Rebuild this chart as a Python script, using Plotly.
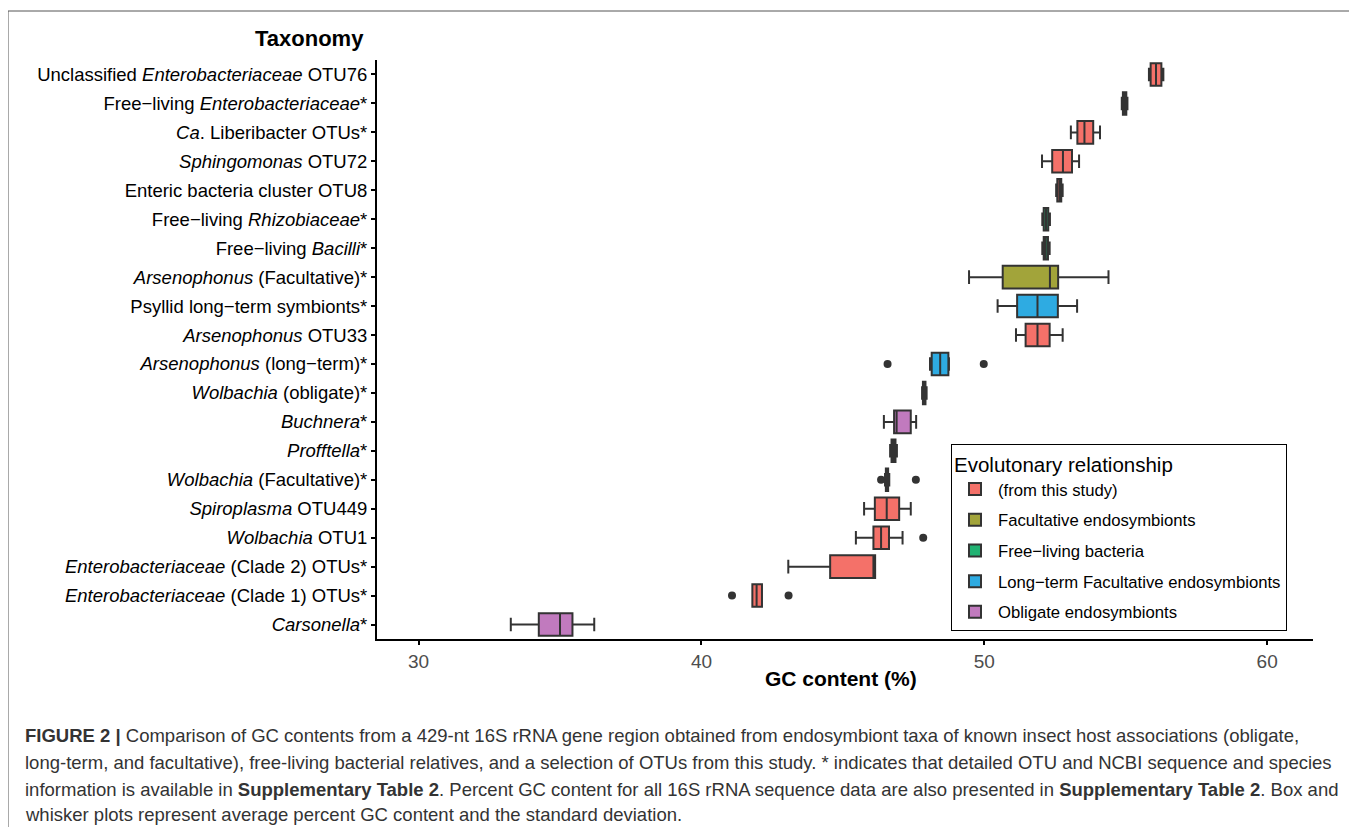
import plotly.graph_objects as go

# ---------------- data ----------------
categories = [
    "Unclassified Enterobacteriaceae OTU76",
    "Free-living Enterobacteriaceae*",
    "Ca. Liberibacter OTUs*",
    "Sphingomonas OTU72",
    "Enteric bacteria cluster OTU8",
    "Free-living Rhizobiaceae*",
    "Free-living Bacilli*",
    "Arsenophonus (Facultative)*",
    "Psyllid long-term symbionts*",
    "Arsenophonus OTU33",
    "Arsenophonus (long-term)*",
    "Wolbachia (obligate)*",
    "Buchnera*",
    "Profftella*",
    "Wolbachia (Facultative)*",
    "Spiroplasma OTU449",
    "Wolbachia OTU1",
    "Enterobacteriaceae (Clade 2) OTUs*",
    "Enterobacteriaceae (Clade 1) OTUs*",
    "Carsonella*",
]
tick_labels = [
    "Unclassified <i>Enterobacteriaceae</i> OTU76",
    "Free\u2212living <i>Enterobacteriaceae</i>*",
    "<i>Ca</i>. Liberibacter OTUs*",
    "<i>Sphingomonas</i> OTU72",
    "Enteric bacteria cluster OTU8",
    "Free\u2212living <i>Rhizobiaceae</i>*",
    "Free\u2212living <i>Bacilli</i>*",
    "<i>Arsenophonus</i> (Facultative)*",
    "Psyllid long\u2212term symbionts*",
    "<i>Arsenophonus</i> OTU33",
    "<i>Arsenophonus</i> (long\u2212term)*",
    "<i>Wolbachia</i> (obligate)*",
    "<i>Buchnera</i>*",
    "<i>Profftella</i>*",
    "<i>Wolbachia</i> (Facultative)*",
    "<i>Spiroplasma</i> OTU449",
    "<i>Wolbachia</i> OTU1",
    "<i>Enterobacteriaceae</i> (Clade 2) OTUs*",
    "<i>Enterobacteriaceae</i> (Clade 1) OTUs*",
    "<i>Carsonella</i>*",
]
group = [
    "(from this study)", "Free\u2212living bacteria", "(from this study)", "(from this study)",
    "(from this study)", "Free\u2212living bacteria", "Free\u2212living bacteria",
    "Facultative endosymbionts", "Long\u2212term Facultative endosymbionts", "(from this study)",
    "Long\u2212term Facultative endosymbionts", "Obligate endosymbionts", "Obligate endosymbionts",
    "Obligate endosymbionts", "Facultative endosymbionts", "(from this study)", "(from this study)",
    "(from this study)", "(from this study)", "Obligate endosymbionts",
]
lower = [55.82, 54.86, 53.06, 52.04, 52.54, 52.05, 52.05, 49.46, 50.47, 51.12,
         48.08, 47.80, 46.45, 46.67, 46.49, 45.75, 45.46, 43.07, 41.80, 33.26]
q1 = [55.88, 54.90, 53.29, 52.40, 52.58, 52.10, 52.10, 50.65, 51.16, 51.46,
      48.14, 47.83, 46.81, 46.72, 46.52, 46.13, 46.08, 44.55, 41.80, 34.25]
median = [56.07, 54.96, 53.54, 52.78, 52.66, 52.18, 52.17, 52.32, 51.88, 51.88,
          48.44, 47.87, 46.90, 46.79, 46.56, 46.55, 46.35, 46.08, 41.95, 35.00]
q3 = [56.26, 55.02, 53.85, 53.10, 52.72, 52.26, 52.25, 52.61, 52.60, 52.31,
      48.73, 47.92, 47.40, 46.86, 46.60, 46.99, 46.63, 46.14, 42.14, 35.44]
upper = [56.33, 55.06, 54.09, 53.35, 52.77, 52.32, 52.31, 54.39, 53.28, 52.77,
         48.75, 47.96, 47.59, 46.91, 46.64, 47.40, 47.11, 46.14, 42.14, 36.21]

outlier_cat = [
    "Arsenophonus (long-term)*", "Arsenophonus (long-term)*",
    "Wolbachia (Facultative)*", "Wolbachia (Facultative)*",
    "Wolbachia OTU1",
    "Enterobacteriaceae (Clade 1) OTUs*", "Enterobacteriaceae (Clade 1) OTUs*",
]
outlier_val = [46.58, 49.98, 46.35, 47.58, 47.84, 41.08, 43.08]

legend_order = ["(from this study)", "Facultative endosymbionts", "Free\u2212living bacteria",
                "Long\u2212term Facultative endosymbionts", "Obligate endosymbionts"]
colors = ["#F47169", "#A2A43A", "#21B272", "#2EABE2", "#C17ABE"]

x_ticks = [30, 40, 50, 60]

caption_lines = [
    "<b>FIGURE 2 |</b> Comparison of GC contents from a 429-nt 16S rRNA gene region obtained from endosymbiont taxa of known insect host associations (obligate,",
    "long-term, and facultative), free-living bacterial relatives, and a selection of OTUs from this study. * indicates that detailed OTU and NCBI sequence and species",
    "information is available in <b>Supplementary Table 2</b>. Percent GC content for all 16S rRNA sequence data are also presented in <b>Supplementary Table 2</b>. Box and",
    "whisker plots represent average percent GC content and the standard deviation.",
]

# ---------------- layout geometry (screen pixels) ----------------
OFF = 8                      # page body margin
W, H = 1357 - OFF, 827 - OFF
L, R, T, B = 377, 1313, 60, 639   # plot area on screen
PW, PH = R - L, B - T


def px(x):
    return (x - L) / PW


def py(y):
    return (B - y) / PH


FONT = "Liberation Sans, Arial, sans-serif"

fig = go.Figure()

for g, c in zip(legend_order, colors):
    idx = [i for i, gg in enumerate(group) if gg == g]
    fig.add_trace(go.Box(
        name=g,
        legendgroup=g,
        orientation="h",
        y=[categories[i] for i in idx],
        lowerfence=[lower[i] for i in idx],
        q1=[q1[i] for i in idx],
        median=[median[i] for i in idx],
        q3=[q3[i] for i in idx],
        upperfence=[upper[i] for i in idx],
        fillcolor=c,
        line=dict(color="#333333", width=2),
        width=0.78,
        whiskerwidth=0.6,
        boxpoints=False,
        hoverinfo="skip",
    ))

fig.add_trace(go.Scatter(
    x=outlier_val, y=outlier_cat, mode="markers",
    marker=dict(color="#333333", size=8),
    showlegend=False, hoverinfo="skip",
))

annotations = [
    dict(text="<b>Taxonomy</b>", x=px(366), y=py(38), xref="paper", yref="paper",
         xanchor="right", yanchor="middle", showarrow=False,
         font=dict(family=FONT, size=22, color="black")),
    dict(text="<b>GC content (%)</b>", x=px(841), y=py(678), xref="paper", yref="paper",
         xanchor="center", yanchor="middle", showarrow=False,
         font=dict(family=FONT, size=21, color="black")),
]
for line, yy in zip(caption_lines, [735, 762, 789, 815]):
    annotations.append(dict(
        text=line, x=px(23), y=py(yy), xref="paper", yref="paper",
        xanchor="left", yanchor="middle", showarrow=False, align="left",
        font=dict(family=FONT, size=18.5, color="#333333")))

fig.update_layout(
    width=W, height=H,
    margin=dict(l=L - OFF, r=W - (R - OFF), t=T - OFF, b=H - (B - OFF), pad=0),
    paper_bgcolor="white", plot_bgcolor="white",
    boxmode="overlay",
    font=dict(family=FONT, color="black"),
    showlegend=True,
    legend=dict(
        title=dict(text="Evolutonary relationship", font=dict(family=FONT, size=20.5, color="black")),
        x=px(951), y=py(444), xanchor="left", yanchor="top",
        bordercolor="black", borderwidth=1, bgcolor="white",
        font=dict(family=FONT, size=16.7, color="black"),
        traceorder="grouped", tracegroupgap=6, itemwidth=36,
    ),
    xaxis=dict(
        range=[28.53, 61.62], tickvals=x_ticks, ticks="outside", ticklen=4,
        tickcolor="black", tickwidth=1.5,
        tickfont=dict(family=FONT, size=19, color="#4D4D4D"),
        showgrid=False, zeroline=False, showline=True, linecolor="black", linewidth=2,
    ),
    yaxis=dict(
        type="category", categoryorder="array", categoryarray=categories,
        range=[len(categories) - 0.5, -0.5],
        tickvals=categories, ticktext=tick_labels,
        ticks="outside", ticklen=4, tickcolor="black", tickwidth=1.5,
        tickfont=dict(family=FONT, size=18.5, color="black"),
        showgrid=False, zeroline=False, showline=True, linecolor="black", linewidth=2,
    ),
    annotations=annotations,
    shapes=[dict(type="rect", xref="paper", yref="paper",
                 x0=px(8), x1=px(1350), y0=py(860), y1=py(11),
                 line=dict(color="#555555", width=1), fillcolor="rgba(0,0,0,0)", layer="below")],
)

fig.write_html("out.html")
